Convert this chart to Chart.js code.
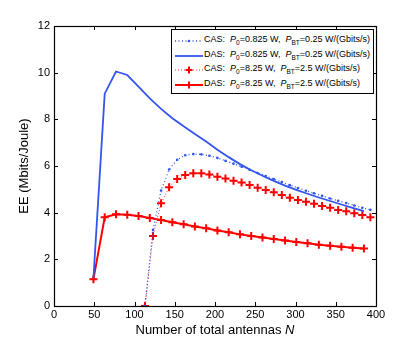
<!DOCTYPE html>
<html lang="en">
<head>
<meta charset="UTF-8">
<title>EE vs number of antennas</title>
<script src="https://cdn.jsdelivr.net/npm/chart.js"></script>
<style>
    body { margin: 0; background: #ffffff; font-family: 'Liberation Sans', Arial, sans-serif; }
    .wrap { position: relative; width: 415px; height: 345px; }
    .legend {
        position: absolute; left: 171px; top: 29px; width: 201px; height: 63px;
        border: 1px solid #000; background: #fff; font-size: 9px; color: #000;
    }
    .legend .row { position: absolute; left: 0; height: 14px; line-height: 14px; white-space: nowrap; }
    .legend svg { position: absolute; left: 3px; top: 2px; }
    .legend .txt { position: absolute; left: 32px; top: -2px; }
    .legend i { font-style: italic; }
    .legend sub { font-size: 6.5px; vertical-align: -3px; line-height: 0; }
    .xtitle {
        position: absolute; left: 54px; width: 322px; top: 322px; text-align: center;
        font-size: 13px; line-height: 16px; color: #000;
    }
</style>
</head>
<body>
<div class="wrap">
    <canvas id="eeChart" width="415" height="345"></canvas>
    <div class="legend">
        <div class="row" style="top:4px">
            <svg width="28" height="10"><line x1="0" y1="5" x2="28" y2="5" stroke="#3355ee" stroke-width="1.3" stroke-dasharray="1,2.5"/><circle cx="14" cy="5" r="1.3" fill="#3355ee"/></svg>
            <span class="txt">CAS:&nbsp; <i>P</i><sub>0</sub>=0.825 W,&nbsp; <i>P</i><sub>BT</sub>=0.25 W/(Gbits/s)</span>
        </div>
        <div class="row" style="top:19px">
            <svg width="28" height="10"><line x1="0" y1="5" x2="28" y2="5" stroke="#3355ee" stroke-width="1.8"/></svg>
            <span class="txt">DAS:&nbsp; <i>P</i><sub>0</sub>=0.825 W,&nbsp; <i>P</i><sub>BT</sub>=0.25 W/(Gbits/s)</span>
        </div>
        <div class="row" style="top:33px">
            <svg width="28" height="10"><line x1="0" y1="5" x2="28" y2="5" stroke="#ff3344" stroke-width="1" stroke-dasharray="1,2"/><path d="M10.5 5 H17.5 M14 1.5 V8.5" stroke="#ff0000" stroke-width="2"/></svg>
            <span class="txt">CAS:&nbsp; <i>P</i><sub>0</sub>=8.25 W,&nbsp; <i>P</i><sub>BT</sub>=2.5 W/(Gbits/s)</span>
        </div>
        <div class="row" style="top:48px">
            <svg width="28" height="10"><line x1="0" y1="5" x2="28" y2="5" stroke="#ff0000" stroke-width="2"/><path d="M10.5 5 H17.5 M14 1.5 V8.5" stroke="#ff0000" stroke-width="2"/></svg>
            <span class="txt">DAS:&nbsp; <i>P</i><sub>0</sub>=8.25 W,&nbsp; <i>P</i><sub>BT</sub>=2.5 W/(Gbits/s)</span>
        </div>
    </div>
    <div class="xtitle">Number of total antennas <i>N</i></div>
</div>

<script>
    // --- Daten ---
    const nDas = [49, 63, 77, 91, 105, 119, 133, 147, 161, 175, 189, 203, 217, 231, 245, 259, 273, 287, 301, 315, 329, 343, 357, 371, 385];
    const eeDasLowPower = [1.2, 9.1, 10.05, 9.9, 9.4, 8.9, 8.45, 8.05, 7.7, 7.37, 7.05, 6.7, 6.38, 6.08, 5.82, 5.58, 5.36, 5.16, 4.98, 4.81, 4.65, 4.5, 4.35, 4.21, 4.07];
    const eeDasHighPower = [1.15, 3.8, 3.93, 3.91, 3.86, 3.77, 3.69, 3.59, 3.5, 3.41, 3.33, 3.24, 3.16, 3.07, 3.0, 2.94, 2.87, 2.81, 2.74, 2.69, 2.63, 2.58, 2.54, 2.5, 2.46];

    const nCas = [113, 123, 133, 143, 153, 163, 173, 183, 193, 203, 213, 223, 233, 243, 253, 263, 273, 283, 293, 303, 313, 323, 333, 343, 353, 363, 373, 383, 393];
    const eeCasLowPower = [0, 3.26, 4.95, 5.85, 6.27, 6.46, 6.51, 6.5, 6.44, 6.35, 6.22, 6.1, 5.97, 5.84, 5.7, 5.57, 5.44, 5.31, 5.18, 5.06, 4.94, 4.83, 4.72, 4.61, 4.51, 4.41, 4.31, 4.21, 4.12];
    const eeCasHighPower = [0, 3.0, 4.4, 5.09, 5.44, 5.61, 5.69, 5.69, 5.64, 5.54, 5.46, 5.37, 5.29, 5.19, 5.07, 4.97, 4.87, 4.76, 4.64, 4.54, 4.47, 4.38, 4.29, 4.21, 4.11, 4.06, 3.97, 3.9, 3.8];

    const xTicks = [0, 50, 100, 150, 200, 250, 300, 350, 400];
    const yTicks = [0, 2, 4, 6, 8, 10, 12];

    const blue = '#3355ee';
    const red = '#ff0000';

    function toPoints(xs, ys) {
        return xs.map((x, i) => ({ x: x, y: ys[i] }));
    }

    // Rahmen + Ticks nach innen (MATLAB-Stil)
    const boxPlugin = {
        id: 'box',
        afterDatasetsDraw(chart) {
            const { ctx, chartArea: a, scales } = chart;
            const len = 4;
            ctx.save();
            ctx.strokeStyle = '#000';
            ctx.lineWidth = 1;
            ctx.beginPath();
            xTicks.forEach(v => {
                const px = Math.round(scales.x.getPixelForValue(v)) + 0.5;
                ctx.moveTo(px, a.bottom); ctx.lineTo(px, a.bottom - len);
                ctx.moveTo(px, a.top); ctx.lineTo(px, a.top + len);
            });
            yTicks.forEach(v => {
                const py = Math.round(scales.y.getPixelForValue(v)) + 0.5;
                ctx.moveTo(a.left, py); ctx.lineTo(a.left + len, py);
                ctx.moveTo(a.right, py); ctx.lineTo(a.right - len, py);
            });
            ctx.stroke();
            ctx.lineWidth = 1.2;
            ctx.strokeRect(Math.round(a.left) + 0.5, Math.round(a.top) + 0.5, Math.round(a.right - a.left), Math.round(a.bottom - a.top));
            ctx.restore();
        }
    };

    const tickFont = { family: "'Liberation Sans', Arial, sans-serif", size: 11 };
    const titleFont = { family: "'Liberation Sans', Arial, sans-serif", size: 13 };

    new Chart(document.getElementById('eeChart'), {
        type: 'line',
        data: {
            datasets: [
                {
                    label: 'CAS low',
                    data: toPoints(nCas, eeCasLowPower),
                    borderColor: blue, backgroundColor: blue,
                    borderWidth: 1.3, borderDash: [1, 2.5],
                    pointStyle: 'circle', pointRadius: 1.3, pointBorderWidth: 0
                },
                {
                    label: 'DAS low',
                    data: toPoints(nDas, eeDasLowPower),
                    borderColor: blue, borderWidth: 1.8, pointRadius: 0
                },
                {
                    label: 'CAS high',
                    data: toPoints(nCas, eeCasHighPower),
                    borderColor: '#ff3344', borderWidth: 1, borderDash: [1, 2],
                    pointStyle: 'cross', pointRadius: 4, pointBorderColor: red, pointBorderWidth: 2
                },
                {
                    label: 'DAS high',
                    data: toPoints(nDas, eeDasHighPower),
                    borderColor: red, borderWidth: 2,
                    pointStyle: 'cross', pointRadius: 4, pointBorderColor: red, pointBorderWidth: 2
                }
            ]
        },
        options: {
            responsive: false,
            animation: false,
            layout: { padding: { top: 26, right: 39, left: 0, bottom: 0 } },
            elements: { line: { tension: 0 } },
            plugins: { legend: { display: false }, tooltip: { enabled: false } },
            scales: {
                x: {
                    type: 'linear', min: 0, max: 400,
                    afterFit(scale) { scale.height = 39; },
                    afterBuildTicks(scale) { scale.ticks = xTicks.map(v => ({ value: v })); },
                    grid: { display: false, drawTicks: false }, border: { display: false },
                    ticks: { color: '#000', font: tickFont, padding: 2, maxRotation: 0 },
                    title: { display: false }
                },
                y: {
                    min: 0, max: 12,
                    afterFit(scale) { scale.width = 54; },
                    afterBuildTicks(scale) { scale.ticks = yTicks.map(v => ({ value: v })); },
                    grid: { display: false, drawTicks: false }, border: { display: false },
                    ticks: { color: '#000', font: tickFont, padding: 4 },
                    title: { display: true, text: 'EE (Mbits/Joule)', color: '#000', font: titleFont, padding: { top: 17, bottom: 0 } }
                }
            }
        },
        plugins: [boxPlugin]
    });
</script>
</body>
</html>
